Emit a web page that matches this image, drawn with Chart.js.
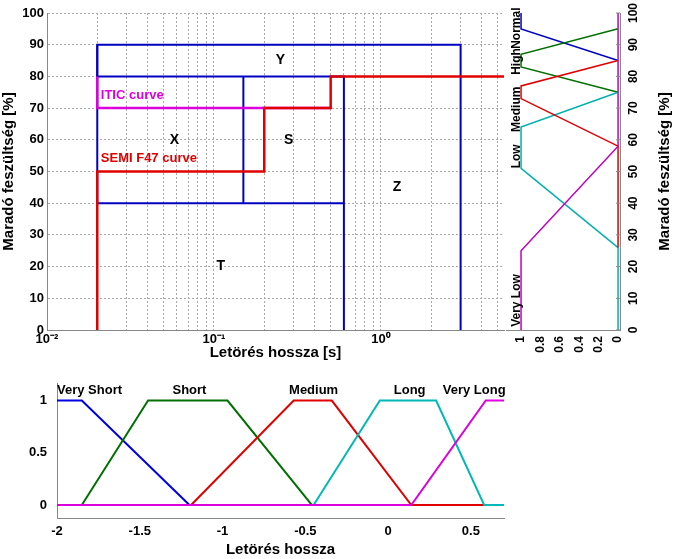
<!DOCTYPE html>
<html><head><meta charset="utf-8">
<script src="https://cdn.jsdelivr.net/npm/chart.js@4"></script>
<style>body{margin:0;background:#fff;width:680px;height:559px;position:relative;overflow:hidden}
canvas{position:absolute}</style></head><body>
<canvas id="c1" width="505" height="362" style="left:0;top:0"></canvas>
<canvas id="c2" width="175" height="362" style="left:505px;top:0"></canvas>
<canvas id="c3" width="680" height="189" style="left:0;top:370px"></canvas>
<script>
// ---- main chart data (duration [s], residual voltage [%]) ----
const boxY = [[0.02,80],[0.02,90],[3,90],[3,0]];
const boxTop80 = [[0.02,80],[0.6,80],[0.6,0]];
const box40 = [[0.02,40],[0.6,40]];
const boxS = [[0.15,80],[0.15,40]];
const boxLeft = [[0.02,40],[0.02,90]];
const itic = [[0.02,80],[0.02,70],[0.5,70]];
const semi = [[0.02,0],[0.02,50],[0.2,50],[0.2,70],[0.5,70],[0.5,80],[6,80]];
const regionNames = ["Y","X","S","Z","T"];
const regionPos = [[0.25,85],[0.058,60],[0.28,60],[1.25,45],[0.11,20]];
const curveNames = ["ITIC curve","SEMI F47 curve"];
const curvePos = [[0.021,74],[0.021,54]];
const xTickDecades = [-2,-1,0];
// ---- voltage membership functions (membership, voltage) ----
const vVeryLow = [[1,0],[1,25],[0,58],[0,100]];
const vLow = [[0,0],[0,26],[1,51],[1,64],[0,75]];
const vMedium = [[0,26],[0,58],[1,73],[1,77],[0,85]];
const vHigh = [[0,75],[1,83],[1,87],[0,95]];
const vNormal = [[0,85],[1,95],[1,100]];
const vNames = ["Very Low","Low","Medium","High","Normal"];
const vNamePos = [[0.98,1],[0.98,51],[0.98,62.5],[0.98,80.5],[0.98,88.7]];
const vTicks = [0,10,20,30,40,50,60,70,80,90,100];
// ---- duration membership functions (log duration, membership) ----
const dVeryShort = [[-2,1],[-1.85,1],[-1.2,0]];
const dShort = [[-1.85,0],[-1.45,1],[-0.97,1],[-0.46,0]];
const dMedium = [[-1.19,0],[-0.57,1],[-0.34,1],[0.14,0],[0.58,0]];
const dLong = [[-0.45,0],[-0.05,1],[0.29,1],[0.58,0],[0.7,0]];
const dVeryLong = [[-2,0],[0.14,0],[0.59,1],[0.7,1]];
const dNames = ["Very Short","Short","Medium","Long","Very Long"];
const dNamePos = [[-2,1.1],[-1.2,1.1],[-0.45,1.1],[0.13,1.1],[0.52,1.1]];

const F = "'Liberation Sans', Arial, sans-serif";
const pts = a => a.map(p=>({x:p[0],y:p[1]}));
const ds = (a,c,w)=>({data:pts(a),borderColor:c,borderWidth:w||2,showLine:true,pointRadius:0,fill:false,tension:0});
const sup = {"-":"⁻","0":"⁰","1":"¹","2":"²"};
const fixW = w => s=>{s.width=w}; const fixH = h => s=>{s.height=h};
Chart.defaults.animation=false;

function textPlugin(names,pos,colors,rot,align,size){
 return {id:'t'+Math.random().toString(36).slice(2),afterDatasetsDraw(ch){
  const c=ch.ctx,sx=ch.scales.x,sy=ch.scales.y;
  c.save();c.font="bold "+(size||14)+"px "+F;
  names.forEach((n,i)=>{
   const x=sx.getPixelForValue(pos[i][0]),y=sy.getPixelForValue(pos[i][1]);
   c.fillStyle=colors[i];c.save();c.translate(x,y);
   if(rot){c.rotate(-Math.PI/2);c.textAlign='left';c.textBaseline='bottom';}
   else{c.textAlign=align?align[i]:'center';c.textBaseline='middle';}
   c.fillText(n,0,0);c.restore();});
  c.restore();}};
}

// main chart
new Chart(document.getElementById('c1'),{type:'scatter',
 data:{datasets:[ds(semi,'#e00000',2.5),ds(itic,'#dd00dd',2.5),ds(boxY,'#0000c0'),ds(boxTop80,'#0000c0'),ds(box40,'#0000c0'),ds(boxS,'#0000c0'),ds(boxLeft,'#0000c0')]},
 options:{responsive:false,layout:{padding:{top:13,right:1,left:0}},plugins:{legend:{display:false},tooltip:{enabled:false}},
  scales:{
   x:{type:'logarithmic',min:0.01,max:Math.pow(10,0.737),afterFit:fixH(32),
    afterBuildTicks(s){const t=[];for(let d=-2;d<=0;d++)for(let m=1;m<10;m++){const v=m*Math.pow(10,d);if(v<=s.max)t.push({value:v});}s.ticks=t;},
    ticks:{autoSkip:false,maxRotation:0,font:{family:F,size:13,weight:'bold'},color:'#000',padding:2,
     callback:(v)=>{const l=Math.log10(v);return Math.abs(l-Math.round(l))<1e-9&&xTickDecades.includes(Math.round(l))?'10'+String(Math.round(l)).split('').map(ch=>sup[ch]).join(''):'';}},
    grid:{color:'#aaa',lineWidth:1,tickLength:0},border:{dash:[2,2],color:'#888'},
    title:{display:true,text:'Letörés hossza [s]',font:{family:F,size:15,weight:'bold'},color:'#000',padding:0}},
   y:{min:0,max:100,afterFit:fixW(47),ticks:{stepSize:10,font:{family:F,size:13,weight:'bold'},color:'#000',padding:3},
    grid:{color:'#aaa',tickLength:0},border:{dash:[2,2],color:'#888'},
    title:{display:true,text:'Maradó feszültség [%]',font:{family:F,size:15,weight:'bold'},color:'#000',padding:0}}}},
 plugins:[textPlugin(regionNames,regionPos,regionNames.map(()=> '#000')),
  textPlugin(curveNames,curvePos,['#dd00dd','#e00000'],false,['left','left'],13)]
});

// right chart
new Chart(document.getElementById('c2'),{type:'scatter',
 data:{datasets:[ds(vVeryLow,'#c000c0',1.5),ds(vMedium,'#e00000',1.5),ds(vLow,'#00b0b0',1.5),ds(vHigh,'#007000',1.5),ds(vNormal,'#0000c0',1.5)]},
 options:{responsive:false,layout:{padding:{top:13,left:1,right:0}},plugins:{legend:{display:false},tooltip:{enabled:false}},
  scales:{
   x:{min:-0.02,max:1.155,reverse:true,afterFit:fixH(32),afterBuildTicks(s){s.ticks=[0,0.2,0.4,0.6,0.8,1].map(v=>({value:v}));},
    ticks:{minRotation:90,maxRotation:90,font:{family:F,size:12,weight:'bold'},color:'#000',padding:2,callback:v=>String(v)},
    grid:{display:false,drawTicks:true,tickLength:4},border:{color:'#888'}},
   y:{position:'right',min:0,max:100,afterFit:fixW(60),afterBuildTicks(s){s.ticks=vTicks.map(v=>({value:v}));},
    ticks:{display:false},grid:{display:false,tickLength:4},border:{color:'#888'}}}},
 plugins:[textPlugin(vNames,vNamePos,vNames.map(()=> '#000'),true,null,12),
  {id:'ry',afterDraw(ch){const c=ch.ctx,sy=ch.scales.y,x0=ch.chartArea.right;
   c.save();c.fillStyle='#000';c.font="bold 12px "+F;c.strokeStyle='#888';
   vTicks.forEach(v=>{const y=sy.getPixelForValue(v);c.beginPath();c.moveTo(x0-4,y);c.lineTo(x0,y);c.stroke();
    c.save();c.translate(x0+14,y);c.rotate(-Math.PI/2);c.textAlign='center';c.textBaseline='middle';c.fillText(String(v),0,0);c.restore();});
   c.font="bold 15px "+F;c.save();c.translate(x0+45,(ch.chartArea.top+ch.chartArea.bottom)/2);c.rotate(-Math.PI/2);c.textAlign='center';c.textBaseline='middle';c.fillText('Maradó feszültség [%]',0,0);c.restore();
   c.restore();}}]
});

// bottom chart
new Chart(document.getElementById('c3'),{type:'scatter',
 data:{datasets:[ds(dVeryLong,'#dd00dd'),ds(dLong,'#00b8b8'),ds(dMedium,'#e00000'),ds(dShort,'#007000'),ds(dVeryShort,'#0000e0')]},
 options:{responsive:false,layout:{padding:{top:13,right:176}},plugins:{legend:{display:false},tooltip:{enabled:false}},
  scales:{
   x:{min:-2,max:0.7,afterFit:fixH(41),afterBuildTicks(s){s.ticks=[-2,-1.5,-1,-0.5,0,0.5].map(v=>({value:v}));},
    ticks:{maxRotation:0,font:{family:F,size:13,weight:'bold'},color:'#000',padding:2,callback:v=>String(v)},
    grid:{display:false,tickLength:4},border:{color:'#888'},
    title:{display:true,text:'Letörés hossza',font:{family:F,size:15,weight:'bold'},color:'#000',padding:0}},
   y:{min:-0.124,max:1.16,afterFit:fixW(57),afterBuildTicks(s){s.ticks=[0,0.5,1].map(v=>({value:v}));},
    ticks:{font:{family:F,size:13,weight:'bold'},color:'#000',padding:6,callback:v=>String(v)},grid:{display:false,tickLength:4},border:{color:'#888'}}}},
 plugins:[textPlugin(dNames,dNamePos,dNames.map(()=> '#000'),false,['left','center','center','center','center'],13)]
});
</script></body></html>
